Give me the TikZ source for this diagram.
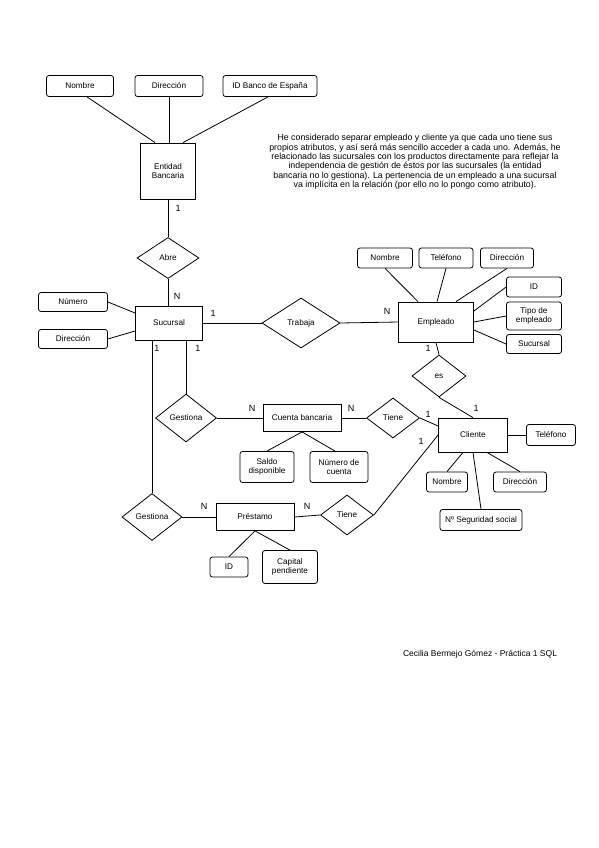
\documentclass[tikz,border=0pt]{standalone}
\usepackage{fontspec}
\setmainfont{Liberation Sans}
\usetikzlibrary{shapes.geometric,calc}
\begin{document}
\begin{tikzpicture}[x=1pt,y=-1pt,
  every node/.style={font=\fontsize{8.2}{9.2}\selectfont, align=center, inner sep=0pt},
  attr/.style={draw, rounded corners=2.5pt, line width=0.8pt},
  ent/.style={draw, line width=0.8pt},
  rel/.style={draw, diamond, line width=0.8pt},
  card/.style={font=\fontsize{9}{10}\selectfont},
  conn/.style={line width=0.8pt}]
\useasboundingbox[fill=white] (0,0) rectangle (599,848);

% Entidad bancaria
\node[attr, minimum width=67, minimum height=21] (eNom) at (80,86) {Nombre};
\node[attr, minimum width=68, minimum height=21] (eDir) at (169,86) {Dirección};
\node[attr, minimum width=94, minimum height=21] (eID) at (270,86) {ID Banco de España};
\node[ent, minimum width=55, minimum height=56] (ent) at (168,171) {Entidad\\Bancaria};
\draw[conn] ($(eNom.south)+(7,0)$) -- ($(ent.north)+(-13,0)$);
\draw[conn] (eDir.south) -- (eDir.south |- ent.north);
\draw[conn] ($(eID.south)+(-2,0)$) -- ($(ent.north)+(15,0)$);

% Abre
\node[rel, minimum width=62, minimum height=41] (abre) at (168,258) {Abre};
\draw[conn] (ent.south) -- (abre.north);
\node[card] (c1) at (178,208) {1};

% Sucursal
\node[ent, minimum width=67, minimum height=34] (suc) at (169,323) {Sucursal};
\draw[conn] (abre.south) -- (abre.south |- suc.north);
\node[card] (cN1) at (177,296) {N};
\node[attr, minimum width=69, minimum height=19] (sNum) at (73,302) {Número};
\node[attr, minimum width=69, minimum height=19] (sDir) at (73,339) {Dirección};
\draw[conn] (sNum.east) -- ($(suc.west)+(0,-10)$);
\draw[conn] (sDir.east) -- ($(suc.west)+(0,8)$);

% Trabaja
\node[rel, minimum width=78, minimum height=50] (trab) at (301,323) {Trabaja};
\draw[conn] (suc.east) -- (trab.west);
\node[card] (c2) at (213,313) {1};

% Empleado
\node[ent, minimum width=75, minimum height=40] (emp) at (436,322) {Empleado};
\draw[conn] (trab.east) -- (emp.west);
\node[card] (cN2) at (387,311) {N};
\node[attr, minimum width=55, minimum height=20] (mNom) at (385,258) {Nombre};
\node[attr, minimum width=54, minimum height=20] (mTel) at (446,258) {Teléfono};
\node[attr, minimum width=53, minimum height=20] (mDir) at (507,258) {Dirección};
\node[attr, minimum width=55, minimum height=20] (mID) at (534,287) {ID};
\node[attr, minimum width=55, minimum height=28] (mTipo) at (534,316) {Tipo de\\empleado};
\node[attr, minimum width=55, minimum height=19] (mSuc) at (534,344) {Sucursal};
\draw[conn] (mNom.south) -- ($(emp.north)+(-18,0)$);
\draw[conn] (mTel.south) -- ($(emp.north)+(1,0)$);
\draw[conn] (mDir.south) -- ($(emp.north)+(20,0)$);
\draw[conn] (mID.west) -- ($(emp.east)+(0,-11)$);
\draw[conn] (mTipo.west) -- (emp.east);
\draw[conn] (mSuc.west) -- ($(emp.east)+(0,8)$);

% es
\node[rel, minimum width=54, minimum height=42] (es) at (439,376) {es};
\draw[conn] (emp.south) -- (es.north);
\node[card] (c3) at (428,348) {1};

% Cliente
\node[ent, minimum width=69, minimum height=34] (cli) at (473,435) {Cliente};
\draw[conn] (es.south) -- (cli.north);
\node[card] (c4) at (476,408) {1};
\node[attr, minimum width=49, minimum height=21] (cTel) at (551,435) {Teléfono};
\node[attr, minimum width=41, minimum height=20] (cNom) at (447,482) {Nombre};
\node[attr, minimum width=53, minimum height=20] (cDir) at (520,482) {Dirección};
\node[attr, minimum width=82, minimum height=21] (cNSS) at (481,520) {Nº Seguridad social};
\draw[conn] (cli.east) -- (cTel.west);
\draw[conn] (cNom.north) -- ($(cli.south)+(-10,0)$);
\draw[conn] (cDir.north) -- ($(cli.south)+(14,0)$);
\draw[conn] (cNSS.north) -- (cli.south);

% Cuenta bancaria
\node[rel, minimum width=61, minimum height=48] (g1) at (186,418) {Gestiona};
\node[ent, minimum width=78, minimum height=27] (cta) at (302,418) {Cuenta bancaria};
\node[rel, minimum width=53, minimum height=40] (t1) at (393,418) {Tiene};
\draw[conn] (g1.north |- suc.south) -- (g1.north);
\draw[conn] (g1.east) -- (cta.west);
\draw[conn] (cta.east) -- (t1.west);
\draw[conn] (t1.east) -- ($(cli.west)+(0,-9)$);
\node[card] (c5) at (198,348) {1};
\node[card] (cN3) at (252,408) {N};
\node[card] (cN4) at (351,408) {N};
\node[card] (c6) at (428,414) {1};
\node[attr, minimum width=54, minimum height=31] (saldo) at (267,467) {Saldo\\disponible};
\node[attr, minimum width=58, minimum height=31] (numc) at (339,467) {Número de\\cuenta};
\draw[conn] (saldo.north) -- (cta.south);
\draw[conn] ($(numc.north)+(-4,0)$) -- (cta.south);

% Prestamo
\node[rel, minimum width=60, minimum height=47] (g2) at (152,517) {Gestiona};
\node[ent, minimum width=78, minimum height=27] (pre) at (255,517) {Préstamo};
\node[rel, minimum width=53, minimum height=40] (t2) at (347,515) {Tiene};
\draw[conn] (g2.north |- suc.south) -- (g2.north);
\draw[conn] (g2.east) -- (pre.west);
\draw[conn] (pre.east) -- (t2.west);
\draw[conn] (t2.east) -- (cli.west);
\node[card] (c7) at (157,348) {1};
\node[card] (cN5) at (204,506) {N};
\node[card] (cN6) at (307,506) {N};
\node[card] (c8) at (421,441) {1};
\node[attr, minimum width=38, minimum height=20] (pID) at (229,567) {ID};
\node[attr, minimum width=55, minimum height=33] (cap) at (290,567) {Capital\\pendiente};
\draw[conn] (pID.north) -- (pre.south);
\draw[conn] (cap.north) -- (pre.south);

% Texts
\node[font=\fontsize{8.8}{9.4}\selectfont] (nota) at (415,162) {He considerado separar empleado y cliente ya que cada uno tiene sus\\
propios atributos, y así será más sencillo acceder a cada uno. Además, he\\
relacionado las sucursales con los productos directamente para reflejar la\\
independencia de gestión de éstos por las sucursales (la entidad\\
bancaria no lo gestiona). La pertenencia de un empleado a una sucursal\\
va implícita en la relación (por ello no lo pongo como atributo).};
\node[font=\fontsize{8.5}{9.5}\selectfont] (autor) at (480,654) {Cecilia Bermejo Gómez - Práctica 1 SQL};
\end{tikzpicture}
\end{document}
